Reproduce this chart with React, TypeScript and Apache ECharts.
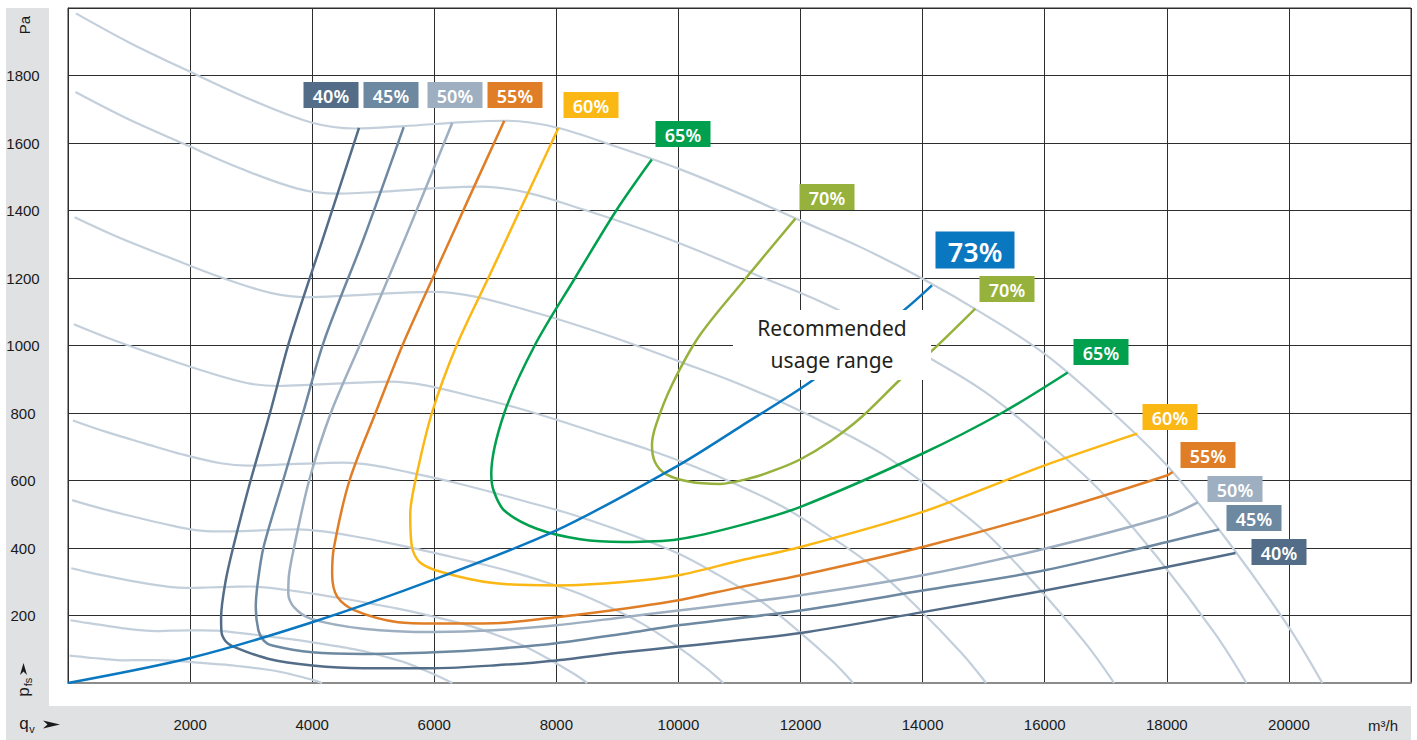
import React, { useEffect, useRef } from "react";
import * as echarts from "echarts";

// Fan characteristic curves (different speeds), [m³/h, Pa]
const fanCurve1 = [[130,1984],[1000,1898],[2000,1811],[3000,1728],[4000,1660],[4700,1643],[5500,1650],[6500,1662],[7200,1666],[8000,1646],[9000,1588],[10000,1524],[11000,1450],[12000,1370],[13000,1290],[14000,1198],[15000,1093],[16000,975],[17000,820],[18000,645],[19000,420],[20000,165],[20547,0]];
const fanCurve2 = [[122,1751],[940,1675],[1879,1599],[2819,1525],[3758,1465],[4416,1450],[5167,1456],[6107,1467],[6764,1471],[7516,1453],[8456,1402],[9395,1345],[10335,1280],[11274,1209],[12214,1139],[13153,1057],[14093,965],[15032,861],[15972,724],[16911,569],[17851,371],[18790,146],[19304,0]];
const fanCurve3 = [[108,1380],[834,1320],[1668,1260],[2502,1202],[3336,1155],[3920,1143],[4587,1148],[5421,1156],[6005,1159],[6672,1145],[7506,1105],[8340,1060],[9174,1009],[10008,953],[10842,897],[11676,833],[12510,760],[13344,678],[14178,570],[15012,449],[15846,292],[16680,115],[17136,0]];
const fanCurve4 = [[95,1063],[732,1017],[1464,970],[2196,926],[2928,889],[3440,880],[4026,884],[4758,890],[5270,893],[5856,882],[6588,851],[7320,817],[8052,777],[8784,734],[9516,691],[10248,642],[10980,586],[11712,522],[12444,439],[13176,346],[13908,225],[14640,88],[15040,0]];
const fanCurve5 = [[81,778],[626,744],[1252,710],[1878,677],[2504,651],[2942,644],[3443,647],[4069,651],[4507,653],[5008,645],[5634,622],[6260,597],[6886,568],[7512,537],[8138,506],[8764,469],[9390,428],[10016,382],[10642,321],[11268,253],[11894,165],[12520,65],[12862,0]];
const fanCurve6 = [[68,542],[523,518],[1045,494],[1568,472],[2090,453],[2456,449],[2874,450],[3396,454],[3762,455],[4180,449],[4703,434],[5225,416],[5748,396],[6270,374],[6793,352],[7315,327],[7838,298],[8360,266],[8883,224],[9405,176],[9928,115],[10450,45],[10736,0]];
const fanCurve7 = [[54,340],[414,325],[828,310],[1242,296],[1656,285],[1946,282],[2277,283],[2691,285],[2981,286],[3312,282],[3726,272],[4140,261],[4554,249],[4968,235],[5382,221],[5796,205],[6210,187],[6624,167],[7038,141],[7452,111],[7866,72],[8280,28],[8506,0]];
const fanCurve8 = [[40,186],[306,178],[613,170],[919,162],[1226,156],[1440,154],[1685,155],[1992,156],[2206,156],[2451,155],[2758,149],[3064,143],[3370,136],[3677,129],[3983,121],[4290,112],[4596,103],[4902,92],[5209,77],[5515,61],[5822,39],[6128,15],[6296,0]];
const fanCurve9 = [[26,81],[203,78],[405,74],[608,71],[810,68],[952,67],[1114,68],[1317,68],[1459,68],[1621,67],[1823,65],[2026,62],[2229,59],[2431,56],[2634,53],[2836,49],[3039,45],[3242,40],[3444,34],[3647,26],[3849,17],[4052,7],[4163,0]];

// Efficiency iso-lines
const eff40 = [[4767,1645],[4200,1330],[3631,1016],[3309,800],[2991,600],[2707,403],[2580,300],[2508,195],[2515,150],[2590,122],[2707,108],[3275,72],[4000,52],[4838,44],[6000,44],[6970,52],[8000,67],[9101,91],[10000,108],[12000,148],[14000,210],[16000,274],[18000,344],[19126,385]];
const eff45 = [[5499,1647],[4850,1320],[4199,1016],[3850,800],[3524,600],[3204,403],[3110,300],[3076,225],[3119,156],[3210,125],[3346,111],[4000,91],[4838,86],[6000,91],[6970,101],[8000,118],[9101,146],[10000,171],[12000,215],[14000,274],[16000,334],[18000,418],[18856,455]];
const eff50 = [[6295,1660],[5550,1330],[4817,1016],[4305,800],[3950,600],[3701,400],[3620,320],[3609,264],[3701,225],[3986,190],[4838,161],[6000,151],[6970,156],[8000,171],[9101,195],[10000,215],[12000,260],[14000,319],[16000,398],[18000,494],[18508,535]];
const eff55 = [[7147,1666],[6550,1430],[5975,1200],[5478,1000],[5037,800],[4611,600],[4355,400],[4327,324],[4412,255],[4696,215],[5407,180],[6000,176],[6970,177],[8000,195],[9101,220],[10000,245],[11009,284],[12000,319],[14000,403],[16000,502],[18000,615],[18096,625]];
const eff60 = [[8036,1645],[7401,1400],[6885,1200],[6366,1000],[5961,800],[5691,600],[5606,500],[5634,403],[5762,358],[6117,329],[6970,296],[8000,289],[9101,299],[10000,319],[11009,363],[12000,403],[14000,507],[16000,645],[17513,739]];
const eff65 = [[9563,1551],[8981,1400],[8306,1200],[7645,1000],[7147,800],[6934,620],[6970,571],[7147,511],[7680,457],[8391,426],[9101,418],[10000,426],[11009,467],[12000,522],[14000,680],[15325,803],[16377,920]];
const eff70 = [[11915,1376],[11106,1200],[10352,1031],[9893,883],[9631,764],[9566,705],[9615,655],[9795,619],[10188,596],[10680,590],[11200,608],[11600,632],[12000,663],[12500,718],[13000,788],[13620,897],[14251,1001],[14863,1109]];
const eff73 = [[0,0],[2000,74],[4000,180],[6000,307],[8000,452],[10000,645],[11009,759],[12199,897],[13690,1104],[14153,1178]];

const fanCurves = [fanCurve1, fanCurve2, fanCurve3, fanCurve4, fanCurve5, fanCurve6, fanCurve7, fanCurve8, fanCurve9];
const effNames = ["40%", "45%", "50%", "55%", "60%", "65%", "70%", "73%"];
const effCurves = [eff40, eff45, eff50, eff55, eff60, eff65, eff70, eff73];

const X_MIN = 0, X_MAX = 22000, X_STEP = 2000;
const Y_MIN = 0, Y_MAX = 2000, Y_STEP = 200;

const GRAY = "#c3cfdb";
const EFF_COLORS = ["#536d88", "#6d88a1", "#9eafc1", "#e07e27", "#fbb713", "#00a04e", "#97b23c", "#0a77c1"];
const GRID_COLOR = "#2e2e2e";

export default function App() {
  const ref = useRef<HTMLDivElement>(null);

  useEffect(() => {
    const chart = echarts.init(ref.current!, null, { renderer: "svg" });

    const tagFont = (size: number) => `600 ${size}px "Noto Sans", "Open Sans", sans-serif`;
    const tag = (text: string, cx: number, cy: number, color: string, w = 55, h = 26, fs = 18) => ({
      type: "group",
      children: [
        { type: "rect", z: 100, shape: { x: cx - w / 2, y: cy - h / 2, width: w, height: h }, style: { fill: color } },
        { type: "text", z: 101, x: cx, y: cy + 1, style: { text, fill: "#ffffff", font: tagFont(fs), textAlign: "center", textVerticalAlign: "middle" } },
      ],
    });

    const tags = [
      tag(effNames[0], 331, 95, EFF_COLORS[0]),
      tag(effNames[1], 391, 95, EFF_COLORS[1]),
      tag(effNames[2], 455, 95, EFF_COLORS[2]),
      tag(effNames[3], 515, 95, EFF_COLORS[3]),
      tag(effNames[4], 591, 105, EFF_COLORS[4]),
      tag(effNames[5], 683, 134, EFF_COLORS[5]),
      tag(effNames[6], 827, 197, EFF_COLORS[6]),
      tag(effNames[7], 975, 250, EFF_COLORS[7], 79, 37, 27),
      tag(effNames[6], 1007, 289, EFF_COLORS[6]),
      tag(effNames[5], 1101, 352, EFF_COLORS[5]),
      tag(effNames[4], 1170, 417, EFF_COLORS[4]),
      tag(effNames[3], 1208, 455, EFF_COLORS[3]),
      tag(effNames[2], 1235, 489, EFF_COLORS[2]),
      tag(effNames[1], 1254, 518, EFF_COLORS[1]),
      tag(effNames[0], 1279, 552, EFF_COLORS[0]),
    ];

    const axisFont = '15px "Liberation Sans", Arial, sans-serif';
    const plain = (v: number) => String(v);

    const option: any = {
      animation: false,
      backgroundColor: "transparent",
      grid: { left: 68, top: 8, right: 6, bottom: 57, show: true, borderColor: GRID_COLOR, borderWidth: 1, backgroundColor: "transparent" },
      xAxis: {
        type: "value", min: X_MIN, max: X_MAX, interval: X_STEP,
        axisLine: { show: true, onZero: false, lineStyle: { color: "#8c8c8c", width: 2 } },
        axisTick: { show: false },
        splitLine: { show: true, lineStyle: { color: GRID_COLOR, width: 1 } },
        axisLabel: { margin: 34, fontSize: 15, color: "#1a1a1a", fontFamily: '"Liberation Sans", Arial, sans-serif', showMinLabel: false, showMaxLabel: false, formatter: plain },
      },
      yAxis: {
        type: "value", min: Y_MIN, max: Y_MAX, interval: Y_STEP,
        axisLine: { show: true, onZero: false, lineStyle: { color: GRID_COLOR, width: 1 } },
        axisTick: { show: false },
        splitLine: { show: true, lineStyle: { color: GRID_COLOR, width: 1 } },
        axisLabel: { margin: 45, align: "center", fontSize: 15, color: "#1a1a1a", fontFamily: '"Liberation Sans", Arial, sans-serif', showMinLabel: false, showMaxLabel: false, formatter: plain },
      },
      series: [
        ...fanCurves.map((d, i) => ({
          name: "speed" + (i + 1), type: "line", data: d, showSymbol: false, smooth: 0.35, silent: true, z: 2,
          lineStyle: { color: GRAY, width: 2.2 },
        })),
        ...effCurves.map((d, i) => ({
          name: effNames[i], type: "line", data: d, showSymbol: false, smooth: 0.3, silent: true, z: 3 + (i === 7 ? 1 : 0),
          lineStyle: { color: EFF_COLORS[i], width: 2.5 },
        })),
      ],
      graphic: [
        ...tags,
        { type: "rect", z: 90, shape: { x: 733, y: 310, width: 198, height: 70 }, style: { fill: "#ffffff" } },
        { type: "text", z: 91, x: 832, y: 328, style: { text: "Recommended", fill: "#231f20", font: '21px "Noto Sans", sans-serif', textAlign: "center", textVerticalAlign: "middle" } },
        { type: "text", z: 91, x: 832, y: 360, style: { text: "usage range", fill: "#231f20", font: '21px "Noto Sans", sans-serif', textAlign: "center", textVerticalAlign: "middle" } },
        { type: "text", z: 50, x: 24, y: 25, rotation: Math.PI / 2, style: { text: "Pa", fill: "#1a1a1a", font: axisFont, textAlign: "center", textVerticalAlign: "middle" } },
        { type: "polygon", z: 50, shape: { points: [[20, 675], [23.5, 663], [27, 675], [23.5, 671.5]] }, style: { fill: "#1a1a1a" } },
        { type: "text", z: 50, x: 23, y: 692, rotation: Math.PI / 2, style: { text: "p", fill: "#1a1a1a", font: '17px "Liberation Sans", Arial, sans-serif', textAlign: "center", textVerticalAlign: "middle" } },
        { type: "text", z: 50, x: 28, y: 682, rotation: Math.PI / 2, style: { text: "fs", fill: "#1a1a1a", font: '11px "Liberation Sans", Arial, sans-serif', textAlign: "center", textVerticalAlign: "middle" } },
        { type: "text", z: 50, x: 24, y: 723, style: { text: "q", fill: "#1a1a1a", font: '17px "Liberation Sans", Arial, sans-serif', textAlign: "center", textVerticalAlign: "middle" } },
        { type: "text", z: 50, x: 32, y: 729, style: { text: "v", fill: "#1a1a1a", font: '11px "Liberation Sans", Arial, sans-serif', textAlign: "center", textVerticalAlign: "middle" } },
        { type: "polygon", z: 50, shape: { points: [[43, 720.5], [60, 724.5], [43, 728.5], [47.5, 724.5]] }, style: { fill: "#1a1a1a" } },
        { type: "text", z: 50, x: 1383, y: 725, style: { text: "m³/h", fill: "#1a1a1a", font: axisFont, textAlign: "center", textVerticalAlign: "middle" } },
      ],
    };

    chart.setOption(option);
    return () => chart.dispose();
  }, []);

  return (
    <div style={{ position: "fixed", left: 0, top: 0, width: 1417, height: 740, background: "#ffffff" }}>
      <div style={{ position: "absolute", left: 6, top: 8, width: 43, height: 732, background: "#e0e1e3" }} />
      <div style={{ position: "absolute", left: 6, top: 706, width: 1405, height: 34, background: "#e0e1e3" }} />
      <div ref={ref} style={{ position: "absolute", left: 0, top: 0, width: 1417, height: 740 }} />
    </div>
  );
}
